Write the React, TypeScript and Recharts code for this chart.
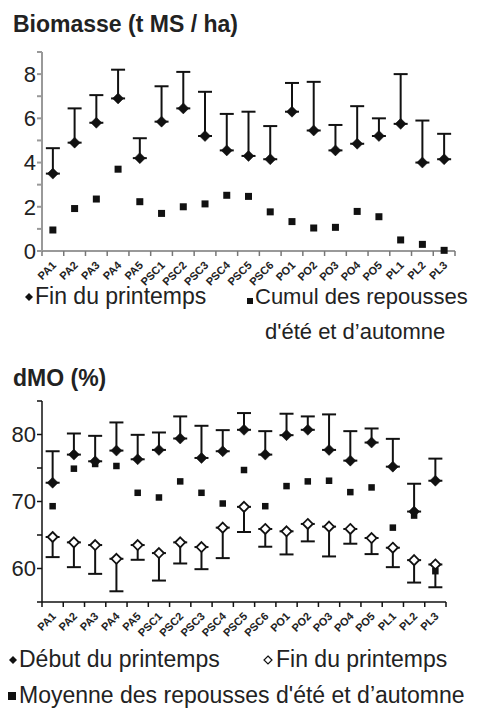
import React from 'react';
import { ComposedChart, Scatter, XAxis, YAxis, ErrorBar } from 'recharts';

const FONT = '"Liberation Sans", Arial, Helvetica, sans-serif';

const categories = [
  'PA1', 'PA2', 'PA3', 'PA4', 'PA5', 'PSC1', 'PSC2', 'PSC3', 'PSC4', 'PSC5',
  'PSC6', 'PO1', 'PO2', 'PO3', 'PO4', 'PO5', 'PL1', 'PL2', 'PL3',
];

// Biomasse (t MS / ha)
const biomasseFin = [3.5, 4.9, 5.8, 6.9, 4.2, 5.85, 6.45, 5.2, 4.55, 4.3, 4.15, 6.3, 5.45, 4.55, 4.85, 5.2, 5.75, 4.0, 4.15];
const biomasseFinHaut = [4.65, 6.45, 7.05, 8.2, 5.1, 7.45, 8.1, 7.2, 6.2, 6.3, 5.65, 7.6, 7.65, 5.7, 6.55, 6.0, 8.0, 5.9, 5.3];
const biomasseCumul = [0.95, 1.92, 2.35, 3.7, 2.23, 1.7, 2.0, 2.13, 2.52, 2.47, 1.77, 1.33, 1.04, 1.07, 1.79, 1.55, 0.5, 0.3, 0.03];
const biomasseTicks = [0, 1, 2, 3, 4, 5, 6, 7, 8, 9];

// dMO (%)
const dmoDebut = [72.8, 77.0, 76.0, 77.6, 76.3, 77.7, 79.4, 76.5, 77.5, 80.7, 77.0, 79.9, 80.7, 77.7, 76.1, 78.8, 75.2, 68.5, 73.1];
const dmoDebutHaut = [77.5, 80.15, 79.8, 81.8, 79.95, 80.3, 82.7, 81.3, 80.65, 83.2, 80.5, 83.1, 82.7, 83.0, 80.5, 80.9, 79.35, 72.65, 76.4];
const dmoMoyenne = [69.3, 74.9, 75.6, 75.3, 71.3, 70.6, 73.0, 71.3, 69.7, 74.7, 69.3, 72.3, 73.0, 73.1, 71.4, 72.1, 66.1, 67.9, 59.6];
const dmoFin = [64.7, 63.9, 63.5, 61.45, 63.5, 62.3, 63.9, 63.2, 66.1, 69.2, 65.9, 65.55, 66.65, 66.25, 65.9, 64.55, 63.1, 61.25, 60.6];
const dmoFinBas = [61.7, 60.2, 59.2, 56.6, 61.3, 58.2, 60.75, 59.9, 61.55, 65.45, 63.25, 62.1, 64.05, 61.8, 63.7, 62.15, 60.2, 57.9, 57.2];
const dmoTicks = [55, 60, 65, 70, 75, 80, 85];

const slotTicks = categories.map((_, i) => i).concat(categories.length);

const biomasseRows = categories.map((c, i) => ({
  x: i + 0.5,
  fin: biomasseFin[i],
  finErr: [0, biomasseFinHaut[i] - biomasseFin[i]],
  cumul: biomasseCumul[i],
}));

const dmoRows = categories.map((c, i) => ({
  x: i + 0.5,
  debut: dmoDebut[i],
  debutErr: [0, dmoDebutHaut[i] - dmoDebut[i]],
  moyenne: dmoMoyenne[i],
  fin: dmoFin[i],
  finErr: [dmoFin[i] - dmoFinBas[i], 0],
}));

const Diamond = (props: any) => {
  const { cx, cy, size = 11, open } = props;
  if (cx == null || cy == null) return null;
  const h = size / 2;
  return (
    <path
      d={`M${cx},${cy - h}L${cx + h},${cy}L${cx},${cy + h}L${cx - h},${cy}Z`}
      fill={open ? '#fff' : '#111'}
      stroke="#111"
      strokeWidth={open ? 1.8 : 0.5}
    />
  );
};

const Square = (props: any) => {
  const { cx, cy, size = 7 } = props;
  if (cx == null || cy == null) return null;
  return <rect x={cx - size / 2} y={cy - size / 2} width={size} height={size} fill="#111" />;
};

// labels sit in the middle of each slot, slanted at 45 degrees
const makeTick = (step: number) => (props: any) => {
  const { payload } = props;
  const label = categories[payload.value];
  if (!label) return <g />;
  const tx = Number(props.x) + step / 2 + 4;
  const ty = Number(props.y) + 8;
  return (
    <g transform={`translate(${tx},${ty})`}>
      <text
        transform="rotate(-45)"
        style={{ transform: 'rotate(-45deg)', transformOrigin: '0px 0px' }}
        textAnchor="end"
        fontSize={11}
        fontWeight="bold"
        fontFamily={FONT}
        fill="#222"
      >
        {label}
      </text>
    </g>
  );
};

const yTickStyle = { fontSize: 22, fill: '#222', fontFamily: FONT };

const BiomasseChart = () => (
  <ComposedChart width={480} height={300} margin={{ top: 52, right: 25, bottom: 0, left: 0 }}>
    <XAxis
      type="number"
      dataKey="x"
      domain={[0, categories.length]}
      ticks={slotTicks}
      interval={0}
      tick={makeTick(413 / 19)}
      tickSize={5}
      height={49}
      stroke="#777"
      strokeWidth={1.5}
    />
    <YAxis
      type="number"
      domain={[0, 9]}
      ticks={biomasseTicks}
      interval={0}
      tickFormatter={(v: number) => (v % 2 === 0 ? String(v) : '')}
      tick={yTickStyle}
      tickSize={5}
      tickMargin={1}
      width={42}
      stroke="#999"
      strokeWidth={2}
    />
    <Scatter data={biomasseRows} dataKey="cumul" isAnimationActive={false} shape={(p: any) => <Square {...p} size={7} />} />
    <Scatter data={biomasseRows} dataKey="fin" isAnimationActive={false} shape={(p: any) => <Diamond {...p} size={11} />}>
      <ErrorBar dataKey="finErr" direction="y" width={7} strokeWidth={2} stroke="#111" />
    </Scatter>
  </ComposedChart>
);

const DmoChart = () => (
  <ComposedChart width={480} height={262} margin={{ top: 21, right: 34, bottom: 0, left: 0 }}>
    <XAxis
      type="number"
      dataKey="x"
      domain={[0, categories.length]}
      ticks={slotTicks}
      interval={0}
      tick={makeTick(404 / 19)}
      tickSize={5}
      height={40}
      stroke="#111"
      strokeWidth={1.5}
    />
    <YAxis
      type="number"
      domain={[55, 85]}
      ticks={dmoTicks}
      interval={0}
      tickFormatter={(v: number) => (v % 10 === 0 ? String(v) : '')}
      tick={yTickStyle}
      tickSize={5}
      tickMargin={1}
      width={42}
      stroke="#111"
      strokeWidth={1.5}
    />
    <Scatter data={dmoRows} dataKey="fin" isAnimationActive={false} shape={(p: any) => <Diamond {...p} size={10} open />}>
      <ErrorBar dataKey="finErr" direction="y" width={7} strokeWidth={2} stroke="#111" />
    </Scatter>
    <Scatter data={dmoRows} dataKey="moyenne" isAnimationActive={false} shape={(p: any) => <Square {...p} size={6.5} />} />
    <Scatter data={dmoRows} dataKey="debut" isAnimationActive={false} shape={(p: any) => <Diamond {...p} size={11} />}>
      <ErrorBar dataKey="debutErr" direction="y" width={7} strokeWidth={2} stroke="#111" />
    </Scatter>
  </ComposedChart>
);

const textStyle = { fontFamily: FONT, fill: '#222' };

const Labels = () => (
  <svg width={480} height={715} style={{ position: 'absolute', left: 0, top: 0 }}>
    <text x={13} y={32} fontSize={23} fontWeight="bold" {...textStyle}>Biomasse (t MS / ha)</text>
    <path d="M29,293L33,297L29,301L25,297Z" fill="#111" />
    <text x={35} y={304} fontSize={23} {...textStyle}>Fin du printemps</text>
    <rect x={247} y={298} width={6} height={6} fill="#111" />
    <text x={255} y={304} fontSize={22} {...textStyle}>Cumul des repousses</text>
    <text x={265} y={339} fontSize={22} {...textStyle}>d'été et d’automne</text>

    <text x={13} y={386} fontSize={23} fontWeight="bold" {...textStyle}>dMO (%)</text>
    <path d="M13,656L17,660L13,664L9,660Z" fill="#111" />
    <text x={19} y={667} fontSize={23} {...textStyle}>Début du printemps</text>
    <path d="M268,656L272,660L268,664L264,660Z" fill="#fff" stroke="#111" strokeWidth={1.2} />
    <text x={276} y={667} fontSize={23} {...textStyle}>Fin du printemps</text>
    <rect x={8} y={692} width={8} height={8} fill="#111" />
    <text x={19} y={703} fontSize={23} {...textStyle}>Moyenne des repousses d'été et d’automne</text>
  </svg>
);

const App = () => (
  <div style={{ position: 'absolute', left: 0, top: 0, width: 480, height: 715, background: '#fff' }}>
    <Labels />
    <div style={{ position: 'absolute', left: 0, top: 0 }}>
      <BiomasseChart />
    </div>
    <div style={{ position: 'absolute', left: 0, top: 380 }}>
      <DmoChart />
    </div>
  </div>
);

export default App;
